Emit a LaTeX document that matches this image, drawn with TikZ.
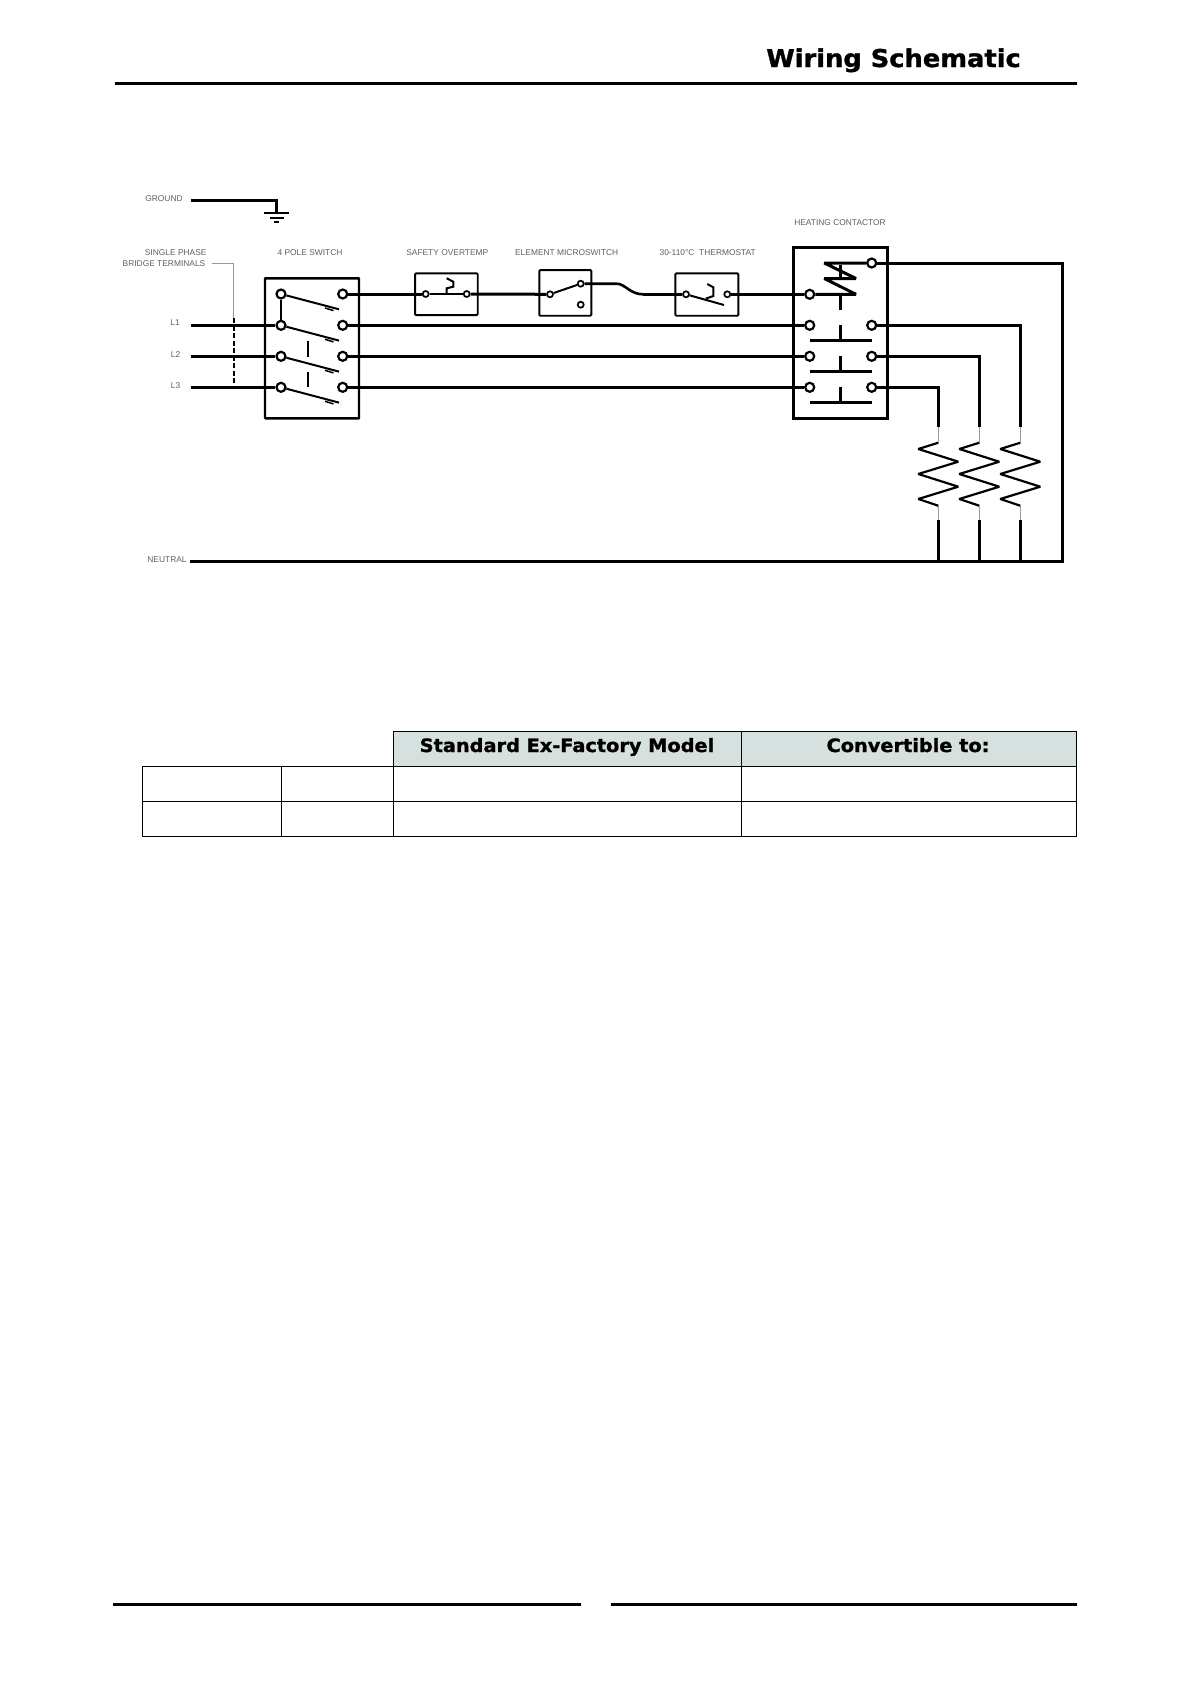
\documentclass[tikz,border=0pt]{standalone}
\usepackage{fontspec}
\setmainfont{Liberation Sans}
\newfontfamily\headfont{DejaVu Sans Bold}[FakeStretch=1.05,FakeBold=1.2]
\definecolor{headfill}{HTML}{D6E0DF}
\definecolor{lab}{HTML}{606060}
\definecolor{leader}{HTML}{999999}
\tikzset{
 wire/.style={line width=2.6pt,black},
 wireb/.style={line width=3pt,black},
 armline/.style={line width=2pt,black},
 tallbox/.style={draw=black,line width=2.4pt,rounded corners=0.5pt,inner sep=0,fill=none},
 smallbox/.style={draw=black,line width=1.9pt,rounded corners=1pt,inner sep=0,fill=none},
 term/.style={circle,draw=black,fill=white,line width=2.2pt,inner sep=0,minimum size=9pt},
 smallterm/.style={circle,draw=black,fill=white,line width=1.7pt,inner sep=0,minimum size=6pt},
 lbl/.style={inner sep=0,text=lab,font=\fontsize{8.4}{10}\selectfont,anchor=center},
 cell/.style={draw=black,line width=1.1pt,inner sep=0,anchor=north west},
 headcell/.style={cell,fill=headfill},
 headtext/.style={inner sep=0,anchor=base,font=\headfont\fontsize{18.4}{20}\selectfont},
 rule/.style={line width=3pt,black},
}
\begin{document}
\begin{tikzpicture}[x=1pt,y=-1pt]
\useasboundingbox (0,0) rectangle (1191,1684);
\fill[white] (0,0) rectangle (1191,1684);

% title
\node[inner sep=0,anchor=base east,font=\headfont\fontsize{24.5}{28}\selectfont] (title) at (1021,67) {Wiring Schematic};
\coordinate (tr1) at (114.5,83.3); \coordinate (tr2) at (1076.7,83.3);
\draw[rule] (tr1) -- (tr2);

% labels
\node[lbl] (lg) at (164,198.3) {GROUND};
\node[lbl] (lsp) at (175.7,253) {SINGLE PHASE};
\node[lbl] (lbt) at (164,264) {BRIDGE TERMINALS};
\node[lbl] (lsw) at (310,253) {4 POLE SWITCH};
\node[lbl] (lot) at (447.3,253) {SAFETY OVERTEMP};
\node[lbl] (lms) at (566.7,253) {ELEMENT MICROSWITCH};
\node[lbl] (lth) at (707.7,253) {30-110°C\ \ THERMOSTAT};
\node[lbl] (lhc) at (840,222.5) {HEATING CONTACTOR};
\node[lbl] (ll1) at (175,323) {L1};
\node[lbl] (ll2) at (175.5,354.5) {L2};
\node[lbl] (ll3) at (175.5,385.5) {L3};
\node[lbl] (ln) at (167,560) {NEUTRAL};

% boxes
\node[tallbox,minimum width=94pt,minimum height=140pt] (swbox) at (312,348.3) {};
\node[smallbox,minimum width=62.7pt,minimum height=41.7pt] (otbox) at (446.4,294.2) {};
\node[smallbox,minimum width=52pt,minimum height=45.7pt] (msbox) at (565.3,292.9) {};
\node[smallbox,minimum width=63pt,minimum height=42.4pt] (thbox) at (706.8,294.5) {};
\node[draw=black,line width=3pt,inner sep=0,minimum width=94pt,minimum height=171pt] (hcbox) at (840.7,332.8) {};

% free ends
\coordinate (g1) at (190.7,200.3); \coordinate (g2) at (276.7,200.3); \coordinate (g3) at (276.7,213);
\coordinate (s1) at (190.7,325.3); \coordinate (s2) at (190.7,356.3); \coordinate (s3) at (190.7,387.3);
\coordinate (b1) at (233.7,318); \coordinate (b3) at (233.7,387.3);
\coordinate (lead) at (211.7,263.3); \coordinate (leadc) at (233.7,263.3);
\coordinate (n1) at (190,561.3); \coordinate (n2) at (1062.3,561.3);

% ground
\draw[wire] (g1) -- (g2) -- (g3);
\draw[wire] (264,213) -- (289,213);
\draw[wire] (270,217.8) -- (283.5,217.8);
\draw[line width=2.4pt] (274,222) -- (279,222);

% switch terminals
\foreach \n/\y in {1/294,2/325.3,3/356.3,4/387.3}{
 \node[term] (swl\n) at (281,\y) {};
 \node[term] (swr\n) at (342.7,\y) {};
 \coordinate (arm\n) at (339,\y+15.3);
 \draw[armline] (swl\n) -- (arm\n);
 \draw[line width=1.5pt] (325,\y+14) -- (333.5,\y+16.6);
}
\draw[armline] (swl1) -- (swl2);
\draw[armline] (308.3,340.7) -- (308.3,356.7);
\draw[armline] (308.3,371.7) -- (308.3,387.3);

% overtemp
\node[smallterm] (otl) at (425.7,294) {};
\node[smallterm] (otr) at (466.7,294) {};
\draw[armline] (446.7,294) -- (446.7,288.3) -- (453.3,286.7) -- (453.3,281.7) -- (446.7,278.3);

% microswitch
\node[smallterm] (msl) at (550,294.3) {};
\node[smallterm] (msu) at (580.7,283.7) {};
\node[smallterm] (msd) at (580.7,304.7) {};
\coordinate (cv1) at (616.7,283.7); \coordinate (cv2) at (643,294.3);
\draw[armline] (msl) -- (msu);

% thermostat
\node[smallterm] (thl) at (686,294.3) {};
\node[smallterm] (thr) at (727.3,294.3) {};
\coordinate (tharm) at (724,305);
\draw[armline] (thl) -- (tharm);
\draw[armline] (706.7,300) -- (706.7,298.3) -- (713.3,296) -- (713.3,287.3) -- (707.3,284);

% contactor terminals
\node[term] (hr0) at (871.7,263) {};
\foreach \n/\y in {1/294.3,2/325.3,3/356.3,4/387.3}{\node[term] (hl\n) at (809.7,\y) {};}
\foreach \n/\y in {2/325.3,3/356.3,4/387.3}{\node[term] (hr\n) at (871.7,\y) {};}
\draw[wireb,miter limit=2] (hr0) -- (824.3,263) -- (856,278.5) -- (824.3,278.5) -- (856,294.3) -- (hl1);
\draw[wireb] (840.7,265) -- (840.7,277);
\draw[wireb] (840.7,296) -- (840.7,309.5);
\foreach \y in {325.3,356.3,387.3}{
 \draw[wireb] (809.7,\y+15.5) -- (871.7,\y+15.5);
 \draw[wireb] (840.7,\y) -- (840.7,\y+15.5);
}

% horizontal wires
\draw[wireb] (swr1) -- (otl);
\draw[wire] (otl) -- (otr);
\draw[wireb] (otr) -- (msl);
\draw[wire] (msu) -- (cv1) .. controls (625,283.7) and (630,294.3) .. (cv2);
\draw[wireb] (cv2) -- (thl);
\draw[wireb] (thr) -- (hl1);
\draw[wire] (s1) -- (swl2);
\draw[wireb] (s2) -- (swl3);
\draw[wire] (s3) -- (swl4);
\draw[wire] (swr2) -- (hl2);
\draw[wireb] (swr3) -- (hl3);
\draw[wire] (swr4) -- (hl4);
\draw[line width=2pt,dash pattern=on 5pt off 2.5pt] (b1) -- (b3);
\draw[line width=0.7pt,leader] (lead) -- (leadc) -- (b1);

% heaters
\foreach \n/\dx/\lw in {a/0/2.6,b/41/3,c/82/2.6}{
 \coordinate (ht\n) at (938.3+\dx,426.7);
 \coordinate (hu\n) at (938.3+\dx,442.7);
 \coordinate (hd\n) at (938.3+\dx,505.7);
 \coordinate (hb\n) at (938.3+\dx,520);
 \coordinate (he\n) at (938.3+\dx,561.3);
 \draw[line width=2.2pt,miter limit=3] (hu\n) -- ++(-20,6.3) -- ++(40,12.7) -- ++(-40,12.3) -- ++(40,12.7) -- ++(-40,12.3) -- (hd\n);
 \draw[line width=0.8pt,leader] (ht\n) -- (hu\n);
 \draw[line width=0.8pt,leader] (hd\n) -- (hb\n);
 \draw[line width=\lw pt] (hb\n) -- (he\n);
}
\draw[wire] (hr4) -- (938.3,387.3) -- (hta);
\draw[wireb] (hr3) -- (979.3,356.3) -- (htb);
\draw[wire] (hr2) -- (1020.3,325.3) -- (htc);
\draw[wireb] (hr0) -- (1062.3,263) -- (n2) -- (n1);

% table
\node[headcell,minimum width=347.5pt,minimum height=35pt] (h1) at (393,730.5) {};
\node[headtext] (h1t) at (567,752) {Standard Ex-Factory Model};
\node[headcell,minimum width=335.5pt,minimum height=35pt] (h2) at (740.5,730.5) {};
\node[headtext] (h2t) at (908,752) {Convertible to:};
\foreach \r/\y in {1/765.5,2/800.5}{
 \node[cell,minimum width=139.3pt,minimum height=35pt] (c\r a) at (142,\y) {};
 \node[cell,minimum width=111.7pt,minimum height=35pt] (c\r b) at (281.3,\y) {};
 \node[cell,minimum width=347.5pt,minimum height=35pt] (c\r c) at (393,\y) {};
 \node[cell,minimum width=335.5pt,minimum height=35pt] (c\r d) at (740.5,\y) {};
}

% footer rules
\coordinate (f1) at (112.7,1604); \coordinate (f2) at (581,1604);
\coordinate (f3) at (611,1604); \coordinate (f4) at (1076.7,1604);
\draw[rule] (f1) -- (f2);
\draw[rule] (f3) -- (f4);
\end{tikzpicture}
\end{document}
